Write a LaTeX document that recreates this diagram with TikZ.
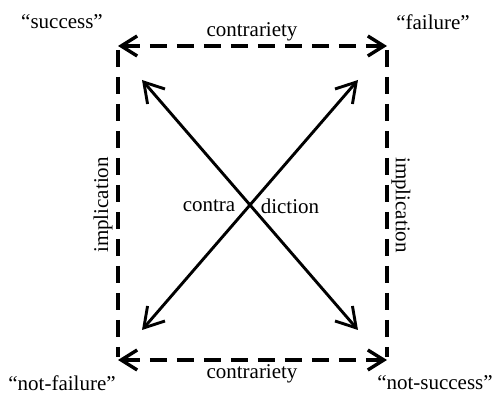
\documentclass[tikz,border=0pt]{standalone}
\usepackage{fontspec}
\setmainfont{Liberation Serif}
\usetikzlibrary{arrows.meta}
\begin{document}
\begin{tikzpicture}[x=0.5pt,y=-0.5pt,
  lbl/.style={font=\fontsize{10.5}{12}\selectfont, inner sep=0pt},
  dashedge/.style={line width=1.9pt, dash pattern=on 8.5pt off 5pt},
  barb/.style={{Straight Barb[length=8pt,width=10pt,line width=1.7pt]}-{Straight Barb[length=8pt,width=10pt,line width=1.7pt]}},
  diag/.style={line width=1.45pt, {Straight Barb[length=9.5pt,width=11.5pt,line width=1.45pt]}-{Straight Barb[length=9.5pt,width=11.5pt,line width=1.45pt]}}]
\useasboundingbox (0,0) rectangle (494,399);
\coordinate (tl) at (118,46);
\coordinate (tr) at (387,46);
\coordinate (bl) at (118,360);
\coordinate (br) at (387,360);
\coordinate (dtl) at (142,80);
\coordinate (dtr) at (358,80);
\coordinate (dbl) at (142,330);
\coordinate (dbr) at (358,330);
\draw[dashedge, barb] (tl) -- (tr);
\draw[dashedge, barb] (bl) -- (br);
\draw[dashedge] (118,50) -- (118,357);
\draw[dashedge] (387,50) -- (387,357);
\draw[diag] (dtl) -- (dbr);
\draw[diag] (dtr) -- (dbl);
\node[lbl] (s) at (62,22) {“success”};
\node[lbl] (f) at (433,22) {“failure”};
\node[lbl] (nf) at (62,383) {“not-failure”};
\node[lbl] (ns) at (435,383) {“not-success”};
\node[lbl] (c1) at (252,32) {contrariety};
\node[lbl] (c2) at (252,374) {contrariety};
\node[lbl, rotate=90] (i1) at (103,205) {implication};
\node[lbl, rotate=-90] (i2) at (401,205) {implication};
\node[lbl] (ca) at (209,206) {contra};
\node[lbl] (cb) at (290,206) {diction};
\end{tikzpicture}
\end{document}
